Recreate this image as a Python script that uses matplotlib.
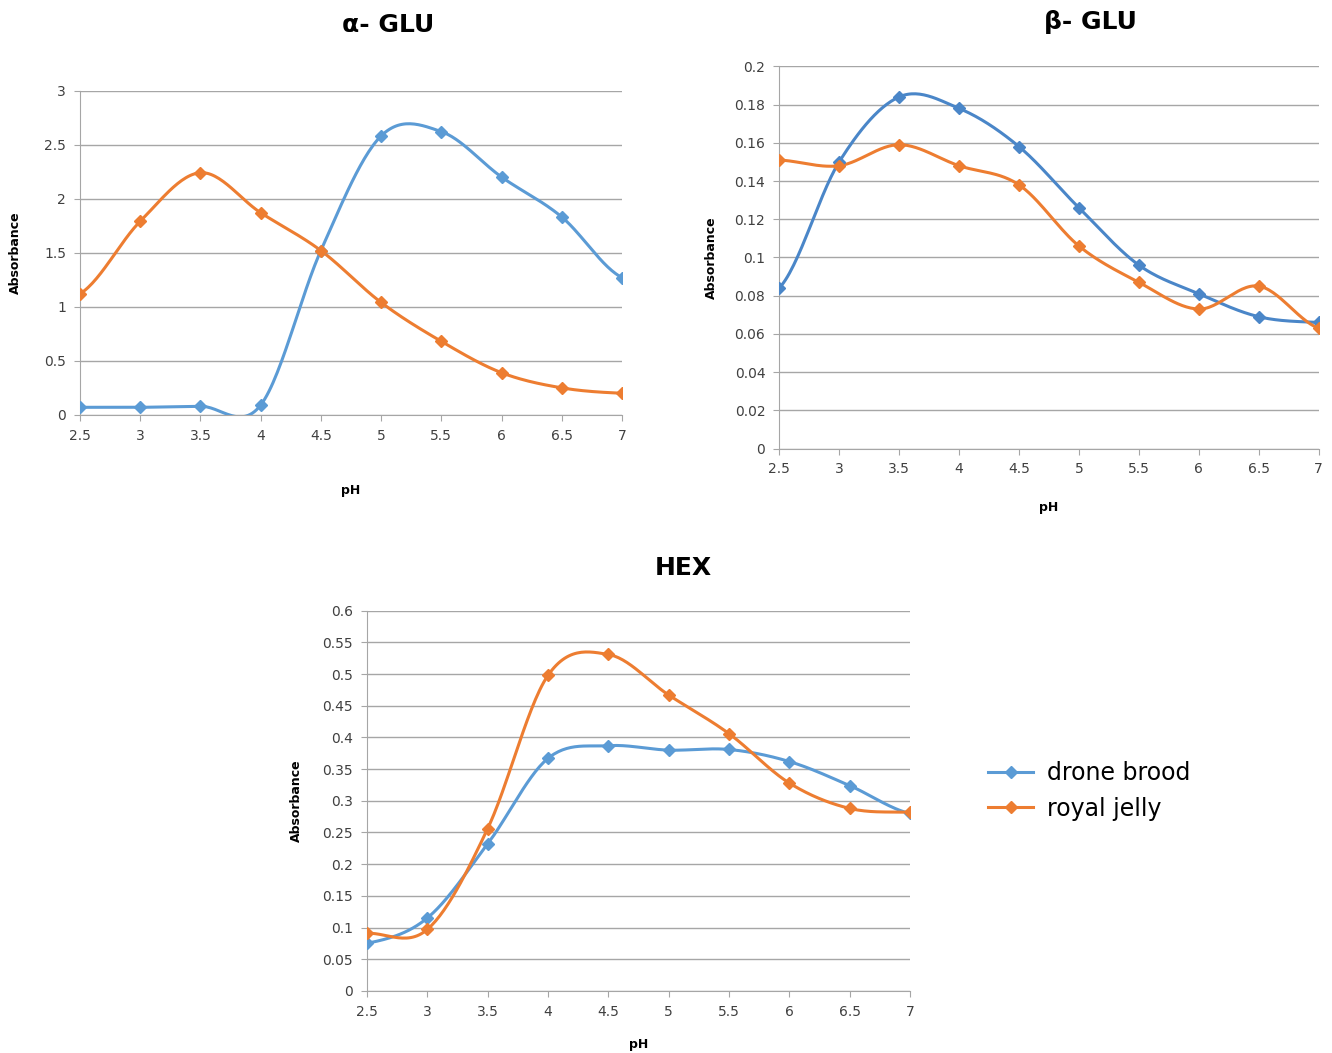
import matplotlib
matplotlib.use("Agg")
import matplotlib.pyplot as plt
from matplotlib.lines import Line2D
import numpy as np

ph = [2.5, 3, 3.5, 4, 4.5, 5, 5.5, 6, 6.5, 7]

aglu_drone = [0.07, 0.07, 0.08, 0.09, 1.52, 2.58, 2.62, 2.20, 1.83, 1.27]
aglu_jelly = [1.12, 1.79, 2.24, 1.87, 1.52, 1.04, 0.68, 0.39, 0.25, 0.20]

bglu_drone = [0.084, 0.150, 0.184, 0.178, 0.158, 0.126, 0.096, 0.081, 0.069, 0.066]
bglu_jelly = [0.151, 0.148, 0.159, 0.148, 0.138, 0.106, 0.087, 0.073, 0.085, 0.063]

hex_drone = [0.075, 0.115, 0.232, 0.367, 0.387, 0.380, 0.381, 0.362, 0.324, 0.280]
hex_jelly = [0.091, 0.097, 0.256, 0.498, 0.531, 0.467, 0.406, 0.328, 0.288, 0.282]

series_names = ["drone brood", "royal jelly"]
BLUE = "#5b9bd5"
ORANGE = "#ed7d31"
GRID = "#a6a6a6"


def smooth(x, y, n=30):
    """Excel-like smoothed line: Catmull-Rom segments through the points."""
    x = np.asarray(x, float)
    y = np.asarray(y, float)
    px = np.concatenate([[2 * x[0] - x[1]], x, [2 * x[-1] - x[-2]]])
    py = np.concatenate([[y[0]], y, [y[-1]]])
    xs, ys = [], []
    t = np.linspace(0, 1, n)
    for i in range(1, len(px) - 2):
        p0, p1, p2, p3 = (np.array([px[j], py[j]]) for j in range(i - 1, i + 3))
        c1 = p1 + (p2 - p0) / 6
        c2 = p2 - (p3 - p1) / 6
        seg = ((1 - t) ** 3)[:, None] * p1 + (3 * (1 - t) ** 2 * t)[:, None] * c1 \
            + (3 * (1 - t) * t ** 2)[:, None] * c2 + (t ** 3)[:, None] * p2
        xs.extend(seg[:, 0])
        ys.extend(seg[:, 1])
    return xs, ys


def draw(ax, drone, jelly, ymax, step, blue=BLUE, xpad=18, ypad=10):
    for vals, col in [(drone, blue), (jelly, ORANGE)]:
        sx, sy = smooth(ph, vals)
        ax.plot(sx, sy, color=col, lw=2.2, zorder=3)
        ax.plot(ph, vals, ls="none", marker="D", ms=6, color=col, zorder=4)
    ax.set_xlim(2.5, 7)
    ax.set_ylim(0, ymax)
    ax.set_xticks(ph)
    ax.set_xticklabels([f"{v:g}" for v in ph])
    ticks = np.arange(0, ymax + step / 2, step)
    ax.set_yticks(ticks)
    ax.set_yticklabels([f"{round(v, 2):g}" for v in ticks])
    ax.grid(axis="y", color=GRID, lw=1)
    ax.set_axisbelow(True)
    for s in ["top", "right"]:
        ax.spines[s].set_visible(False)
    for s in ["left", "bottom"]:
        ax.spines[s].set_color(GRID)
    ax.tick_params(axis="both", colors=GRID, labelcolor="#404040", labelsize=10,
                   length=4, pad=6)
    ax.set_xlabel("pH", fontsize=9, fontweight="bold", labelpad=xpad)
    ax.set_ylabel("Absorbance", fontsize=9, fontweight="bold", labelpad=ypad)


fig = plt.figure(figsize=(13.32, 10.53), dpi=100)

ax1 = fig.add_axes([0.060, 0.606, 0.407, 0.308])
draw(ax1, aglu_drone, aglu_jelly, 3, 0.5, xpad=30, ypad=16)
fig.text(388 / 1332, 1 - 25 / 1053, "α- GLU", fontsize=18, fontweight="bold",
         ha="center", va="center")

ax2 = fig.add_axes([0.585, 0.574, 0.405, 0.363])
draw(ax2, bglu_drone, bglu_jelly, 0.2, 0.02, blue="#4a86c8", xpad=18, ypad=12)
fig.text(1090 / 1332, 1 - 22 / 1053, "β- GLU", fontsize=18, fontweight="bold",
         ha="center", va="center")

ax3 = fig.add_axes([0.2755, 0.059, 0.4077, 0.361])
draw(ax3, hex_drone, hex_jelly, 0.6, 0.05, xpad=14, ypad=14)
fig.text(683 / 1332, 1 - 568 / 1053, "HEX", fontsize=18, fontweight="bold",
         ha="center", va="center")

handles = [Line2D([], [], color=c, lw=2.2, marker="D", ms=6)
           for c in (BLUE, ORANGE)]
fig.legend(handles, series_names, loc="center left", bbox_to_anchor=(0.735, 0.249),
           frameon=False, fontsize=17, handlelength=1.9, labelspacing=0.5,
           handletextpad=0.6, borderaxespad=0)

fig.savefig("out.png", dpi=100)
